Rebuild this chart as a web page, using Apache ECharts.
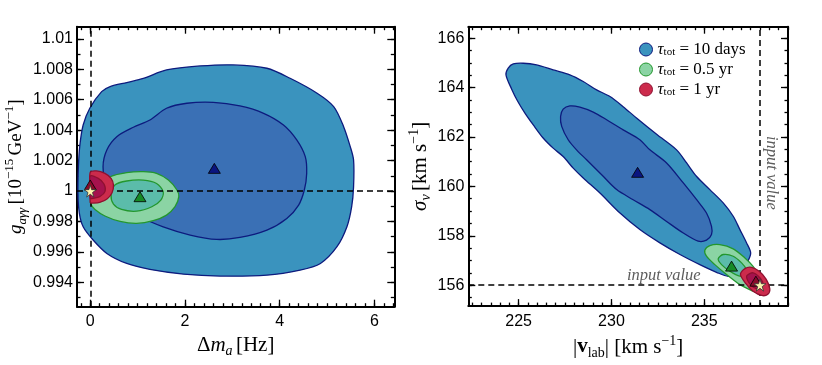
<!DOCTYPE html>
<html><head><meta charset="utf-8">
<script src="https://cdn.jsdelivr.net/npm/echarts@6/dist/echarts.min.js"></script>
<style>html,body{margin:0;padding:0;background:#fff}#c{width:822px;height:365px}</style>
</head><body><div id="c"></div>
<script>
// ---------------- DATA ----------------
// Left panel: Δm_a [Hz] vs g_aγγ [1e-15 GeV^-1]
const leftBlueOuter = [[1.12,1.0074],[1.61,1.00796],[2.32,1.00822],[3.02,1.00829],[3.73,1.00807],[4.22,1.00741],[4.79,1.00643],[5.14,1.00555],[5.35,1.00423],[5.49,1.00292],[5.56,1.00204],[5.56,1.00029],[5.52,0.99897],[5.42,0.99765],[5.21,0.99634],[4.86,0.99524],[4.43,0.9948],[3.73,0.99447],[2.74,0.99441],[1.97,0.99454],[1.26,0.99485],[0.77,0.99524],[0.35,0.9959],[0.06,0.99678],[-0.15,0.99765],[-0.23,0.99853],[-0.26,0.99985],[-0.25,1.0016],[-0.22,1.003],[-0.15,1.00434],[-0.01,1.00544],[0.24,1.00653],[0.42,1.00686],[0.77,1.00713]];
const leftBlueInner = [[0.27,1.0016],[0.35,1.0027],[0.56,1.00357],[0.91,1.00419],[1.26,1.00467],[1.61,1.00544],[2.04,1.00577],[2.6,1.00583],[3.16,1.00559],[3.66,1.00511],[4.08,1.00434],[4.36,1.00336],[4.54,1.00226],[4.57,1.00116],[4.52,1.00007],[4.4,0.99908],[4.15,0.9982],[3.73,0.99743],[3.16,0.99695],[2.67,0.99682],[2.11,0.99711],[1.54,0.99765],[1.05,0.99831],[0.63,0.99919],[0.35,1.00029]];
const leftGreenOuter = [[0.01,0.99941],[0.13,1.00029],[0.42,1.00094],[0.77,1.00121],[1.12,1.00127],[1.4,1.00116],[1.65,1.00072],[1.83,1.00007],[1.87,0.99963],[1.79,0.99897],[1.61,0.99842],[1.33,0.99805],[0.98,0.99787],[0.63,0.998],[0.31,0.99836],[0.1,0.99879],[0.01,0.99914]];
const leftGreenInner = [[0.44,0.99974],[0.52,1.0004],[0.77,1.00066],[1.12,1.00072],[1.4,1.0005],[1.54,0.99996],[1.49,0.99941],[1.3,0.99897],[0.98,0.99868],[0.66,0.99879],[0.49,0.99914]];
const leftRedOuter = [[0,1.00123],[0.13,1.00132],[0.31,1.00116],[0.44,1.00083],[0.49,1.0004],[0.46,0.99989],[0.36,0.9995],[0.2,0.99925],[0.05,0.99921],[0,0.99923],[0,1.0002]];
const leftRedInner = [[0,1.00099],[0.17,1.00083],[0.29,1.00046],[0.31,0.99996],[0.2,0.99963],[0.06,0.99952],[0,0.99952],[0,1.0002]];
const leftBest10d = [2.62,1.00149];
const leftBest05y = [1.05,0.99963];
const leftBest1y = [0.0,1.0004];
const leftInput = [0,1];

// Right panel: |v_lab| [km/s] vs σ_v [km/s]
const rightBlueOuter = [[224.32,164.52],[224.44,164.79],[224.71,164.96],[225.25,164.99],[225.97,164.92],[226.86,164.72],[227.76,164.52],[228.48,164.25],[229.2,163.91],[229.92,163.64],[230.63,163.23],[231.35,162.77],[232.45,162.1],[233.51,161.48],[234.05,160.95],[234.59,160.4],[235.3,159.87],[236.02,159.33],[236.56,158.79],[236.92,158.25],[237.28,157.71],[237.5,157.3],[237.3,156.9],[236.9,156.5],[236.29,156.36],[235.66,156.52],[234.76,156.83],[233.69,157.24],[232.61,157.71],[231.53,158.25],[230.46,158.92],[229.38,159.73],[228.48,160.34],[227.94,160.74],[227.4,161.21],[226.86,161.55],[226.32,161.96],[225.79,162.49],[225.34,162.97],[224.95,163.45],[224.62,163.95]];
const rightBlueInner = [[227.26,162.83],[227.4,163.13],[227.76,163.26],[228.3,163.21],[229.02,163.01],[229.74,162.7],[230.63,162.29],[231.53,161.89],[232.07,161.48],[232.97,160.95],[233.87,160.14],[234.59,159.46],[235.12,158.92],[235.39,158.38],[235.39,158.05],[235.12,157.82],[234.67,157.78],[233.87,158.11],[232.97,158.58],[232.07,159.06],[231.17,159.46],[230.28,159.87],[229.5,160.45],[228.66,161.08],[228.12,161.48],[227.67,161.89],[227.32,162.43]];
const rightGreenOuter = [[235.03,157.41],[235.3,157.6],[235.84,157.64],[236.56,157.47],[237.19,157.1],[237.63,156.76],[237.9,156.45],[238.05,156.1],[238.05,155.85],[237.9,155.68],[237.55,155.78],[236.92,156.02],[236.2,156.43],[235.57,156.83],[235.12,157.17]];
const rightGreenInner = [[235.75,157.06],[236.02,157.24],[236.56,157.17],[237.01,156.9],[237.28,156.63],[237.35,156.4],[236.92,156.36],[236.38,156.56],[235.93,156.83]];
const rightRedOuter = [[236.95,156.43],[237.19,156.67],[237.55,156.72],[237.96,156.56],[238.32,156.25],[238.53,155.85],[238.41,155.62],[238.09,155.58],[237.63,155.75],[237.24,156.06]];
const rightRedInner = [[237.28,156.36],[237.63,156.5],[237.99,156.3],[238.17,156.02],[237.9,155.85],[237.49,156.02]];
const rightBest10d = [231.41,160.57];
const rightBest05y = [236.47,156.77];
const rightBest1y = [237.78,156.16];
const rightInput = [238,156];
const inputLabelH = [232.82,156.39];
const inputLabelV = [238.62,160.55];

// ticks
const xTicksL = [0,2,4,6];
const yTicksL = [0.994,0.996,0.998,1,1.002,1.004,1.006,1.008,1.01];
const xTicksR = [225,230,235];
const yTicksR = [156,158,160,162,164,166];
const legendNames = ['d10','y05','y1'];
const legendLabels = {d10:'10 days', y05:'0.5 yr', y1:'1 yr'};

// ---------------- STYLE ----------------
const SANS = '"Liberation Sans", Arial, sans-serif';
const SERIF = '"Liberation Serif", "DejaVu Serif", serif';
const C = {
  bo:'#3a93be', bi:'#3a70b5', be:'#0d1b7e',
  go:'#8bd4a4', gi:'#5bbcaa', ge:'#23972e',
  ro:'#cc2b4c', ri:'#a5124d', re:'#8f1030'
};
function range(a, b, step){const o=[];const n=Math.round((b-a)/step);for(let i=0;i<=n;i++)o.push(+(a+i*step).toFixed(6));return o;}
const xMinorL = range(-0.2, 6.4, 0.2);
const yMinorL = range(0.993, 1.01, 0.001);
const xMinorR = range(222.5, 239.5, 0.5);
const yMinorR = range(155.5, 166, 0.5);

function richOf(fs){
  const ss = Math.round(fs*0.67);
  return {
    r:{fontFamily:SERIF,fontSize:fs,lineHeight:26,color:'#000'},
    i:{fontFamily:SERIF,fontStyle:'italic',fontSize:fs,lineHeight:26,color:'#000'},
    b:{fontFamily:SERIF,fontWeight:'bold',fontSize:fs,lineHeight:26,color:'#000'},
    si:{fontFamily:SERIF,fontStyle:'italic',fontSize:ss,lineHeight:11,verticalAlign:'bottom',color:'#000'},
    sr:{fontFamily:SERIF,fontSize:ss,lineHeight:11,verticalAlign:'bottom',color:'#000'},
    su:{fontFamily:SERIF,fontSize:ss,lineHeight:11,verticalAlign:'top',color:'#000'}
  };
}

function makeAxes(dim, grid, min, max, majors, minors, name, nameGap, fmt, fs){
  const pos = dim==='x' ? ['bottom','top'] : ['left','right'];
  const line = {show:true,onZero:false,lineStyle:{color:'#000',width:2}};
  const tickStyle = {color:'#000',width:1.3};
  const base = {type:'value',gridIndex:grid,min,max,splitLine:{show:false},
    axisLine:{show:false,onZero:false},axisLabel:{show:false},axisTick:{show:false}};
  return [
    Object.assign({}, base, {position:pos[0], name, nameLocation:'middle', nameGap,
      nameRotate: dim==='y'?90:0, nameTextStyle:{rich:richOf(fs)},
      axisLine:line,
      axisTick:{show:true,inside:true,length:7,lineStyle:tickStyle,customValues:majors},
      axisLabel:{show:true,customValues:majors,formatter:fmt,margin:dim==='x'?7:4,
        fontFamily:SANS,fontSize:16,color:'#000'}}),
    Object.assign({}, base, {position:pos[0],
      axisTick:{show:true,inside:true,length:3.5,lineStyle:tickStyle,customValues:minors}}),
    Object.assign({}, base, {position:pos[1], axisLine:line,
      axisTick:{show:true,inside:true,length:7,lineStyle:tickStyle,customValues:majors}}),
    Object.assign({}, base, {position:pos[1],
      axisTick:{show:true,inside:true,length:3.5,lineStyle:tickStyle,customValues:minors}})
  ];
}

function poly(name, pts, ax, fill, stroke, z){
  return {type:'custom',name,xAxisIndex:ax,yAxisIndex:ax,z,clip:true,silent:true,data:pts,
    renderItem(params, api){
      if(params.dataIndex!==0) return null;
      return {type:'polygon',shape:{points:pts.map(p=>api.coord(p)),smooth:0.3},
        style:{fill,stroke,lineWidth:1.3}};
    }};
}
const STAR = 'path://M50,0 L61,35 L98,35 L68,57 L79,91 L50,70 L21,91 L32,57 L2,35 L39,35 Z';
function marker(name, pt, ax, symbol, size, color, border, z){
  return {type:'scatter',name,xAxisIndex:ax,yAxisIndex:ax,z,silent:true,symbol,symbolSize:size,
    itemStyle:{color,borderColor:border,borderWidth:0.8,opacity:1},data:[pt]};
}
function dashLines(ax, xv, yv){
  return {type:'line',xAxisIndex:ax,yAxisIndex:ax,data:[],z:8,silent:true,
    markLine:{silent:true,symbol:'none',animation:false,label:{show:false},
      lineStyle:{color:'#000',width:1.5,type:[6,4]},
      data:[{xAxis:xv},{yAxis:yv}]}};
}
const fmtL = v => String(parseFloat((+v).toFixed(3)));
const fmtR = v => String(Math.round(v));

const xAxes = [].concat(
  makeAxes('x',0,-0.28,6.42,xTicksL,xMinorL,'{r|Δ}{i|m}{si|a} {r|[Hz]}',18,fmtL,21),
  makeAxes('x',1,222.29,239.51,xTicksR,xMinorR,'{r||}{b|v}{sr|lab}{r|| [km s}{su|−1}{r|]}',18,fmtR,21)
);
const yAxes = [].concat(
  makeAxes('y',0,0.9924,1.0108,yTicksL,yMinorL,'{i|g}{si|aγγ} {r|[10}{su|−15} {r|GeV}{su|−1}{r|]}',46,fmtL,19),
  makeAxes('y',1,155.15,166.47,yTicksR,yMinorR,'{i|σ}{si|v} {r|[km s}{su|−1}{r|]}',29,fmtR,21)
);

const series = [
  poly('d10',leftBlueOuter,0,C.bo,C.be,1),
  poly('d10',leftBlueInner,0,C.bi,C.be,2),
  poly('y05',leftGreenOuter,0,C.go,C.ge,3),
  poly('y05',leftGreenInner,0,C.gi,C.ge,4),
  poly('y1',leftRedOuter,0,C.ro,C.re,5),
  poly('y1',leftRedInner,0,C.ri,C.re,6),
  dashLines(0,leftInput[0],leftInput[1]),
  marker('d10',leftBest10d,0,'triangle',[12,10],'#0a1580','#000',10),
  marker('y05',leftBest05y,0,'triangle',[12,10],'#168a26','#000',10),
  marker('y1',leftBest1y,0,'triangle',[12,10],'#8a0a2a','#000',10),
  marker('input',leftInput,0,STAR,12,'#fff4b0','#333',11),

  poly('d10',rightBlueOuter,4,C.bo,C.be,1),
  poly('d10',rightBlueInner,4,C.bi,C.be,2),
  poly('y05',rightGreenOuter,4,C.go,C.ge,3),
  poly('y05',rightGreenInner,4,C.gi,C.ge,4),
  poly('y1',rightRedOuter,4,C.ro,C.re,5),
  poly('y1',rightRedInner,4,C.ri,C.re,6),
  dashLines(4,rightInput[0],rightInput[1]),
  marker('d10',rightBest10d,4,'triangle',[12,10],'#0a1580','#000',10),
  marker('y05',rightBest05y,4,'triangle',[12,10],'#168a26','#000',10),
  marker('y1',rightBest1y,4,'triangle',[12,10],'#8a0a2a','#000',10),
  marker('input',rightInput,4,STAR,12,'#fff4b0','#333',11),
  {type:'scatter',xAxisIndex:4,yAxisIndex:4,z:12,silent:true,symbolSize:0,
    label:{show:true,position:'inside',formatter:'input value',fontFamily:SERIF,fontStyle:'italic',fontSize:16.5,color:'#333'},
    data:[{value:inputLabelH},{value:inputLabelV,label:{rotate:-90}}]}
];

const legendColors = {d10:[C.bo,C.be], y05:[C.go,C.ge], y1:[C.ro,C.re]};
const chart = echarts.init(document.getElementById('c'), null, {renderer:'canvas'});
chart.setOption({
  animation:false,
  backgroundColor:'#fff',
  grid:[{left:77,top:26.7,width:317.3,height:280},{left:468.3,top:26.7,width:319.7,height:280}],
  xAxis:xAxes, yAxis:yAxes,
  legend:{orient:'vertical',left:634,top:36,itemWidth:13,itemHeight:13,itemGap:3,selectedMode:false,
    data:legendNames.map(n=>({name:n,icon:'circle',itemStyle:{color:legendColors[n][0],borderColor:legendColors[n][1],borderWidth:1}})),
    formatter:n=>'{t|τ}{s|tot}{n| = '+legendLabels[n]+'}',
    textStyle:{fontFamily:SERIF,fontSize:17,color:'#000',
      rich:{t:{fontFamily:SERIF,fontStyle:'italic',fontSize:17,lineHeight:16,color:'#000'},
            s:{fontFamily:SERIF,fontSize:11,lineHeight:8,verticalAlign:'bottom',color:'#000'},
            n:{fontFamily:SERIF,fontSize:17,lineHeight:16,color:'#000'}}}},
  series
});
</script></body></html>
